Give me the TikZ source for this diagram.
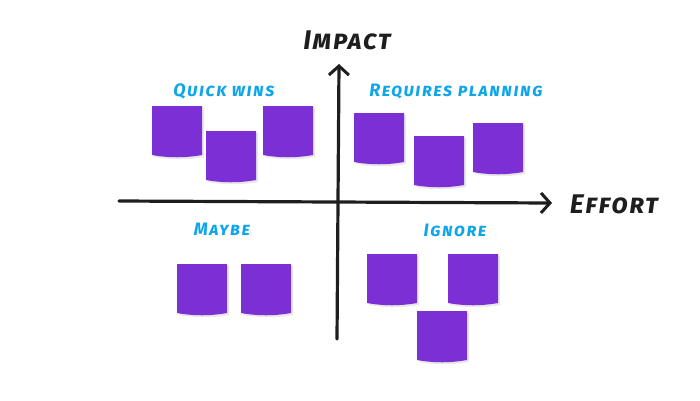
\documentclass[tikz,border=0pt]{standalone}
\usepackage{fontspec}
\setmainfont{Fira Sans}
\newfontfamily\titlefont{Fira Sans}[LetterSpace=8]
\newfontfamily\axisfont{Fira Sans}[LetterSpace=6]
\usepackage{tikz}
\usetikzlibrary{arrows.meta,positioning}

\definecolor{notepurple}{RGB}{125,47,214}
\definecolor{notesky}{RGB}{14,165,233}
\definecolor{inkdark}{RGB}{30,30,30}

\begin{document}
\begin{tikzpicture}[
    x=1pt, y=-1pt,
    axis/.style={line width=3.2pt, draw=inkdark, line cap=round, -{Straight Barb[length=9pt,width=20pt,line width=3pt]}},
    axislabel/.style={font=\axisfont\fontsize{27}{27}\selectfont\bfseries\itshape\scshape, text=inkdark, inner sep=0pt},
    quadrant/.style={font=\titlefont\fontsize{18}{18}\selectfont\bfseries\itshape\scshape, text=notesky, inner sep=0pt},
    stickynote/.pic={
        \fill[black!9] (-23,-22) -- (27,-22) -- (27,27) .. controls (10,30) and (-6,30) .. (-23,27) -- cycle;
        \fill[notepurple] (-25,-24) -- (25,-24) -- (25,25) .. controls (8,28) and (-8,28) .. (-25,25) -- cycle;
    }
]
\useasboundingbox (0,0) rectangle (700,400);

% axes
\coordinate (xstart) at (119,201);
\coordinate (xend) at (552,203);
\coordinate (ystart) at (337,339);
\coordinate (yend) at (339,64);
\draw[axis] (xstart) -- (xend);
\draw[axis] (ystart) -- (yend);
\node[axislabel] (impact) at (347,40) {Impact};
\node[axislabel] (effort) at (614,204) {Effort};

% quadrant titles
\node[quadrant] (quick) at (224,91) {Quick wins};
\node[quadrant] (plan) at (456,91) {Requires planning};
\node[quadrant] (maybe) at (222,229) {Maybe};
\node[quadrant] (ignore) at (455,230) {Ignore};

% notes
\pic (qw1) at (177,130) {stickynote};
\pic (qw2) at (231,155) {stickynote};
\pic (qw3) at (288,130) {stickynote};
\pic (rp1) at (379,137) {stickynote};
\pic (rp2) at (439,160) {stickynote};
\pic (rp3) at (498,147) {stickynote};
\pic (mb1) at (202,288) {stickynote};
\pic (mb2) at (266,288) {stickynote};
\pic (ig1) at (392,278) {stickynote};
\pic (ig2) at (473,278) {stickynote};
\pic (ig3) at (442,335) {stickynote};
\end{tikzpicture}
\end{document}
